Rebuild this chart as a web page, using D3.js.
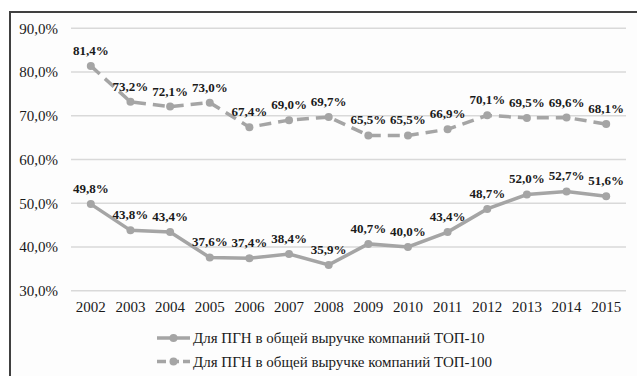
<!DOCTYPE html>
<html>
<head>
<meta charset="utf-8">
<script src="https://cdn.jsdelivr.net/npm/d3@7/dist/d3.min.js"></script>
</head>
<body style="margin:0;padding:0;background:#ffffff">
<svg id="chart" width="637" height="376" style="display:block"></svg>
<script>
// Years on the horizontal axis
const years = ["2002","2003","2004","2005","2006","2007","2008","2009","2010","2011","2012","2013","2014","2015"];
// Share of ПГН in total revenue, %
const top10 = [49.8, 43.8, 43.4, 37.6, 37.4, 38.4, 35.9, 40.7, 40.0, 43.4, 48.7, 52.0, 52.7, 51.6];
const top100 = [81.4, 73.2, 72.1, 73.0, 67.4, 69.0, 69.7, 65.5, 65.5, 66.9, 70.1, 69.5, 69.6, 68.1];
const yTicks = [30, 40, 50, 60, 70, 80, 90];
const seriesNames = [
  "Для ПГН в общей выручке компаний ТОП-10",
  "Для ПГН в общей выручке компаний ТОП-100"
];

const FONT = '"Liberation Serif", "Times New Roman", serif';
const INK = "#1a1a1a";
const fmt = v => v.toFixed(1).replace(".", ",") + "%";

const svg = d3.select("#chart");

// chart frame
svg.append("rect")
  .attr("x", 10).attr("y", 12).attr("width", 640).attr("height", 380)
  .attr("fill", "#fdfdfd").attr("stroke", "#404040").attr("stroke-width", 2);

const x = d3.scaleBand().domain(years).range([71, 626]);
const y = d3.scaleLinear().domain([30, 90]).range([290.7, 28.3]);

// horizontal gridlines
svg.append("g").selectAll("line").data(yTicks).join("line")
  .attr("x1", 71).attr("x2", 626)
  .attr("y1", d => y(d)).attr("y2", d => y(d))
  .attr("stroke", "#d9d9d9").attr("stroke-width", 1.5);

// y axis labels
const yAxis = d3.axisLeft(y).tickValues(yTicks).tickSize(0).tickPadding(0).tickFormat(fmt);
const gy = svg.append("g").attr("transform", "translate(58,0)").call(yAxis);
gy.select(".domain").remove();
gy.selectAll("text")
  .style("font-family", FONT).style("font-size", "15px").style("fill", INK);

// x axis labels
const xAxis = d3.axisBottom(x).tickSize(0).tickPadding(0);
const gx = svg.append("g").attr("transform", "translate(0,301)").call(xAxis);
gx.select(".domain").remove();
gx.selectAll("text")
  .style("font-family", FONT).style("font-size", "15px").style("fill", INK);

const cx = d => x(d) + x.bandwidth() / 2;
const line = d3.line().x((d, i) => cx(years[i])).y(d => y(d));
const grey = "#a5a5a5";

function drawSeries(values, dash) {
  const g = svg.append("g");
  g.append("path").datum(values)
    .attr("d", line)
    .attr("fill", "none")
    .attr("stroke", grey)
    .attr("stroke-width", 3.5)
    .attr("stroke-dasharray", dash);
  g.selectAll("circle").data(values).join("circle")
    .attr("cx", (d, i) => cx(years[i]))
    .attr("cy", d => y(d))
    .attr("r", 4)
    .attr("fill", grey);
  g.selectAll("text").data(values).join("text")
    .attr("x", (d, i) => cx(years[i]))
    .attr("y", d => y(d) - 11)
    .attr("text-anchor", "middle")
    .style("font-family", FONT)
    .style("font-size", "13px")
    .style("font-weight", "bold")
    .style("fill", INK)
    .text(fmt);
}

drawSeries(top100, "12,7");
drawSeries(top10, null);

// legend
const legend = svg.append("g");
seriesNames.forEach((name, i) => {
  const ly = 338 + i * 23.5;
  legend.append("line")
    .attr("x1", 157).attr("x2", 190).attr("y1", ly).attr("y2", ly)
    .attr("stroke", grey).attr("stroke-width", 3.5)
    .attr("stroke-dasharray", i === 1 ? "9,4" : null);
  legend.append("circle").attr("cx", 173.5).attr("cy", ly).attr("r", 4).attr("fill", grey);
  legend.append("text")
    .attr("x", 193).attr("y", ly + 5)
    .style("font-family", FONT)
    .style("font-size", "15px")
    .style("fill", INK)
    .text(name);
});
</script>
</body>
</html>
